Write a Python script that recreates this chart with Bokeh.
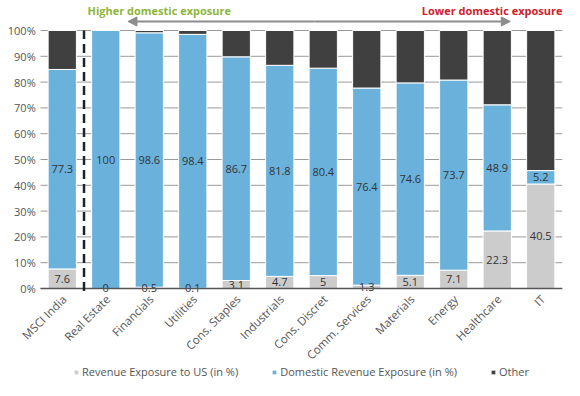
from math import pi
from bokeh.plotting import figure
from bokeh.models import (ColumnDataSource, Range1d, Legend, LegendItem, Label,
                          Arrow, NormalHead)
from bokeh.core.properties import value
from bokeh.embed import file_html
from bokeh.resources import INLINE

categories = ["MSCI India", "Real Estate", "Financials", "Utilities", "Cons. Staples",
              "Industrials", "Cons. Discret", "Comm. Services", "Materials", "Energy",
              "Healthcare", "IT"]
us_exposure = [7.6, 0, 0.5, 0.1, 3.1, 4.7, 5, 1.3, 5.1, 7.1, 22.3, 40.5]
domestic_exposure = [77.3, 100, 98.6, 98.4, 86.7, 81.8, 80.4, 76.4, 74.6, 73.7, 48.9, 5.2]
other = [15.1, 0, 0.9, 1.5, 10.2, 13.5, 14.6, 22.3, 20.3, 19.2, 28.8, 54.3]
y_ticks = [0, 10, 20, 30, 40, 50, 60, 70, 80, 90, 100]
y_tick_labels = ["0%", "10%", "20%", "30%", "40%", "50%", "60%", "70%", "80%", "90%", "100%"]
series_names = ["Revenue Exposure to US (in %)", "Domestic Revenue Exposure (in %)", "Other"]

FONT = "Open Sans"
COLORS = ["#cccccc", "#6ab2dc", "#404040"]
TXT = "#555555"

n = len(categories)
xpos = [i + 0.5 for i in range(n)]          # band centres of the categories
us_mid = [u / 2 for u in us_exposure]
dom_mid = [u + d / 2 for u, d in zip(us_exposure, domestic_exposure)]

src = ColumnDataSource(dict(
    x=xpos, cat=categories, us=us_exposure, dom=domestic_exposure, oth=other,
    us_mid=us_mid, dom_mid=dom_mid,
    us_txt=[f"{v:g}" for v in us_exposure],
    dom_txt=[f"{v:g}" for v in domestic_exposure],
))
tick_src = ColumnDataSource(dict(y=y_ticks, label=y_tick_labels,
                                 x0=[0] * len(y_ticks), x1=[n] * len(y_ticks)))

# frame covers the whole canvas; axis labels, legend and headings are drawn inside it
p = figure(x_range=Range1d(-0.92, n), y_range=Range1d(-35.66, 111.63),
           width=564, height=380, output_backend="svg", toolbar_location=None,
           x_axis_location=None, y_axis_location=None,
           min_border_left=0, min_border_right=2, min_border_top=0, min_border_bottom=0)
p.outline_line_color = None
p.grid.visible = False

# horizontal grid lines (behind bars)
p.segment(x0="x0", y0="y", x1="x1", y1="y", source=tick_src, line_color="#9a9a9a", line_width=1)

# y tick labels
p.text(x=-0.11, y="y", text="label", source=tick_src, text_align="right",
       text_baseline="middle", text_font=value(FONT), text_font_size="11px", text_color=TXT)

renderers = p.vbar_stack(["us", "dom", "oth"], x="x", width=0.65, source=src,
                         color=COLORS, line_color="white", line_width=1)

# value labels
p.text(x="x", y="us_mid", text="us_txt", source=src, text_align="center",
       text_baseline="middle", text_font=value(FONT), text_font_size="11px", text_color="#333333")
p.text(x="x", y="dom_mid", text="dom_txt", source=src, text_align="center",
       text_baseline="middle", text_font=value(FONT), text_font_size="11px", text_color="#333333")

# category labels (rotated)
p.text(x="x", y=-3.3, text="cat", source=src, angle=pi / 4, x_offset=2,
       text_align="right", text_baseline="middle", text_font=value(FONT),
       text_font_size="11.5px", text_color=TXT)

# x axis line at 0
p.segment(x0=[0], y0=[0], x1=[n], y1=[0], line_color="#555555", line_width=1.5)

# dashed separator between index and sectors
p.segment(x0=[1.0], y0=[-1], x1=[1.0], y1=[100], line_color="#222222", line_width=2.5,
          line_dash="9 5")

# arrow
head = dict(size=9, fill_color="#8c8c8c", line_color="#8c8c8c")
p.add_layout(Arrow(x_start=6.3, y_start=103.5, x_end=2.01, y_end=103.5,
                   line_color="#8c8c8c", line_width=2, end=NormalHead(**head)))
p.add_layout(Arrow(x_start=6.3, y_start=103.5, x_end=10.8, y_end=103.5,
                   line_color="#8c8c8c", line_width=2, end=NormalHead(**head)))

p.add_layout(Label(x=2.73, y=107.75, text="Higher domestic exposure", text_align="center",
                   text_baseline="middle", text_font=FONT, text_font_size="11px",
                   text_font_style="bold", text_color="#8db53c"))
p.add_layout(Label(x=12.0, y=107.75, text="Lower domestic exposure", text_align="right",
                   text_baseline="middle", text_font=FONT, text_font_size="11px",
                   text_font_style="bold", text_color="#d0202e"))

legend = Legend(items=[LegendItem(label=s, renderers=[r]) for s, r in zip(series_names, renderers)],
                orientation="horizontal", location=(73, 1))
legend.border_line_color = None
legend.background_fill_alpha = 0
legend.label_text_font = FONT
legend.label_text_font_size = "11px"
legend.label_text_color = TXT
legend.glyph_width = 6
legend.glyph_height = 6
legend.label_height = 12
legend.label_standoff = 3
legend.spacing = 33
legend.margin = 0
legend.padding = 0
p.add_layout(legend, "center")

open("out.html", "w").write(file_html(p, INLINE))
